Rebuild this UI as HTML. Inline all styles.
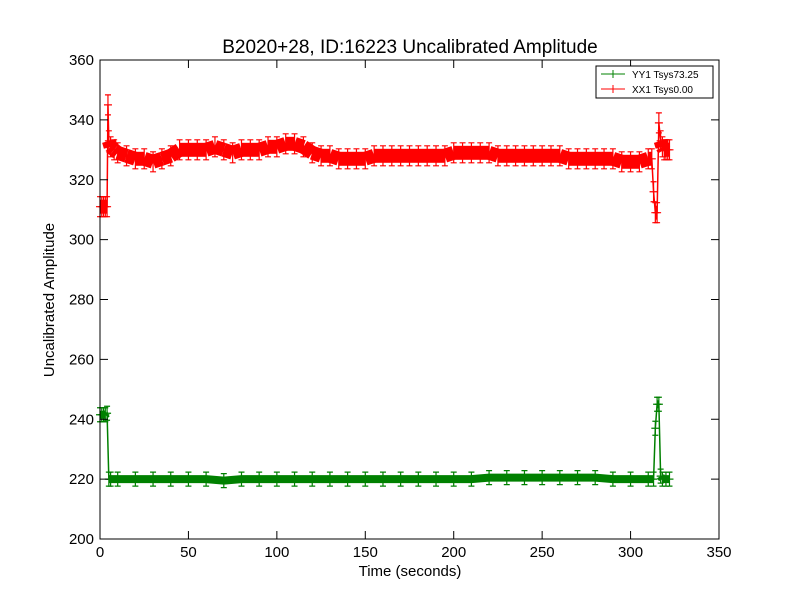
<!DOCTYPE html>
<html><head><meta charset="utf-8"><style>
body{margin:0;background:#fff;width:800px;height:600px;overflow:hidden}
svg{font-family:"Liberation Sans","DejaVu Sans",sans-serif}
</style></head><body>
<svg id="chart" width="800" height="600">
<rect width="800" height="600" fill="#fff"/>
<text x="410" y="53" font-size="19" text-anchor="middle">B2020+28, ID:16223 Uncalibrated Amplitude</text>
<g id="series"></g>
<rect x="100" y="60" width="619" height="479" fill="none" stroke="#000" stroke-width="1"/>
<g id="axes"></g>
<text x="410" y="576" font-size="15" text-anchor="middle">Time (seconds)</text>
<text transform="translate(54,300) rotate(-90)" font-size="15" text-anchor="middle">Uncalibrated Amplitude</text>
<g>
<rect x="596" y="66" width="117" height="32" fill="#fff" stroke="#000" stroke-width="1"/>
<g>
<line x1="601" y1="74" x2="625" y2="74" stroke="green"/><line x1="613" y1="70" x2="613" y2="78" stroke="green"/>
<text x="632" y="78" font-size="10">YY1 Tsys73.25</text></g>
<g>
<line x1="601" y1="89" x2="625" y2="89" stroke="red"/><line x1="613" y1="85" x2="613" y2="93" stroke="red"/>
<text x="632" y="93" font-size="10">XX1 Tsys0.00</text></g>
</g>
</svg>
<script>
const xTicks=[0,50,100,150,200,250,300,350];
const yTicks=[200,220,240,260,280,300,320,340,360];
const xxTimes=[0,1,2,3,4,4.5,5,6,8,10,15,20,25,30,35,40,45,50,55,60,65,70,75,80,85,90,95,100,105,110,115,120,125,130,135,140,145,150,155,160,165,170,175,180,185,190,195,200,205,210,215,220,225,230,235,240,245,250,255,260,265,270,275,280,285,290,295,300,305,310,312,313,314,315,316,317,318,319,320,321,322];
const xxValues=[311,311,311,311,311,345,333,331,330,329,328,327,327,326,327,328,330,330,330,330,331,330,329,330,330,330,331,331,332,332,331,329,328,328,327,327,327,327,328,328,328,328,328,328,328,328,328,329,329,329,329,329,328,328,328,328,328,328,328,328,327,327,327,327,327,327,326,326,326,327,327,316,309,309,339,333,331,330,330,330,330];
const yyTimes=[0,1,2,3,4,5,6,10,20,30,40,50,60,70,80,90,100,110,120,130,140,150,160,170,180,190,200,210,220,230,240,250,260,270,280,290,300,310,313,314,315,316,317,318,320,322];
const yyValues=[241.5,241.5,241.5,241.5,242,220,220,220,220,220,220,220,220,219.5,220,220,220,220,220,220,220,220,220,220,220,220,220,220,220.5,220.5,220.5,220.5,220.5,220.5,220.5,220,220,220,220,237,245,245,221,220,220,220];
const X=t=>100+t*(619/350), Y=v=>539-(v-200)*(479/160);
const ns="http://www.w3.org/2000/svg";
const ax=document.getElementById('axes'), sg=document.getElementById('series');
function mk(tag,attrs,parent){const e=document.createElementNS(ns,tag);for(const k in attrs)e.setAttribute(k,attrs[k]);parent.appendChild(e);return e;}
xTicks.forEach(t=>{
 const g=mk('g',{},ax);
 
 
 mk('line',{x1:X(t),x2:X(t),y1:539,y2:531,stroke:'#000'},g);
 mk('line',{x1:X(t),x2:X(t),y1:60,y2:68,stroke:'#000'},g);
 const tx=mk('text',{x:X(t),y:557,'font-size':15,'text-anchor':'middle'},g);tx.textContent=t;
});
yTicks.forEach(v=>{
 const g=mk('g',{},ax);
 
 
 mk('line',{x1:100,x2:108,y1:Y(v),y2:Y(v),stroke:'#000'},g);
 mk('line',{x1:719,x2:711,y1:Y(v),y2:Y(v),stroke:'#000'},g);
 const tx=mk('text',{x:94,y:Y(v)+5,'font-size':15,'text-anchor':'end'},g);tx.textContent=v;
});
function drawSeries(times,vals,color,band,name){
 const g=mk('g',{},sg);
 
 
 for(let i=0;i<times.length-1;i++){
  const dv=Math.abs(vals[i+1]-vals[i]);
  if(dv<3){
   const s=mk('line',{x1:X(times[i]),y1:Y(vals[i]),x2:X(times[i+1]),y2:Y(vals[i+1]),stroke:color,'stroke-width':band,'stroke-linecap':'butt'},g);
  }
 }
 const pts=times.map((t,i)=>X(t)+','+Y(vals[i])).join(' ');
 mk('polyline',{points:pts,fill:'none',stroke:color,'stroke-width':1.5},g);
 times.forEach((t,i)=>{
  const x=X(t),y=Y(vals[i]),h=band/2+3;
  const m=mk('path',{d:`M${x-4},${y}h8M${x},${y-h}v${2*h}M${x-3},${y-h}h6M${x-3},${y+h}h6`,stroke:color,'stroke-width':1.2},g);
  
  
 });
}
drawSeries(yyTimes,yyValues,'green',8,'series-yy1');
drawSeries(xxTimes,xxValues,'red',14,'series-xx1');
</script>
</body></html>
